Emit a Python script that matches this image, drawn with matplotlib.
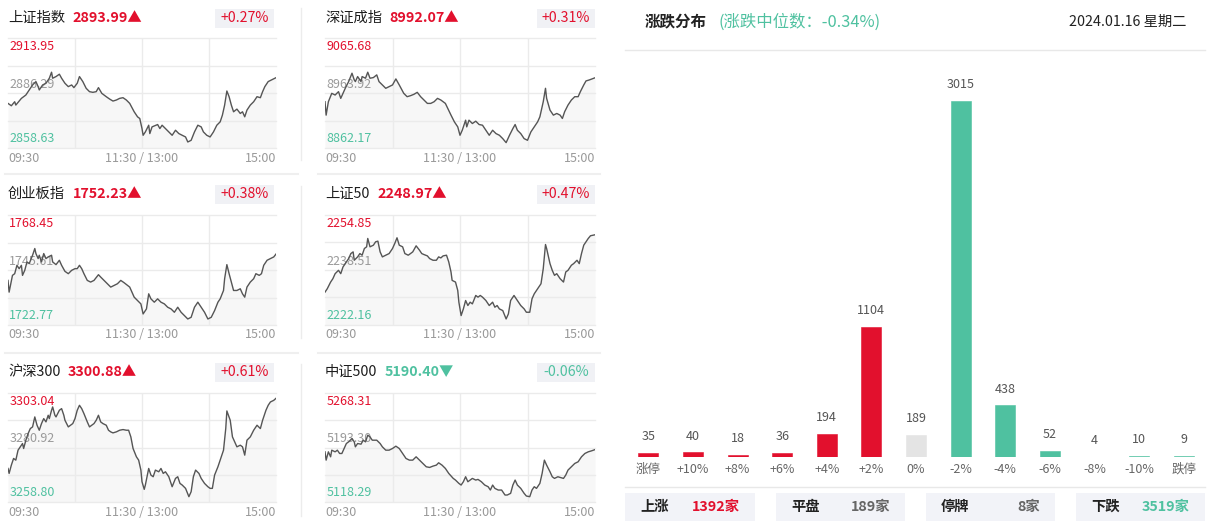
import matplotlib
matplotlib.use('Agg')
import matplotlib.pyplot as plt
from matplotlib.patches import Rectangle

plt.rcParams['font.family'] = ['Noto Sans CJK SC', 'DejaVu Sans']

# ---------------- data ----------------
idx_names = ['上证指数', '深证成指', '创业板指', '上证50', '沪深300', '中证500']
idx_last = [2893.99, 8992.07, 1752.23, 2248.97, 3300.88, 5190.40]
idx_pct = ['+0.27%', '+0.31%', '+0.38%', '+0.47%', '+0.61%', '-0.06%']
idx_high = [2913.95, 9065.68, 1768.45, 2254.85, 3303.04, 5268.31]
idx_prev = [2886.29, 8963.92, 1745.61, 2238.51, 3280.92, 5193.30]
idx_low = [2858.63, 8862.17, 1722.77, 2222.16, 3258.80, 5118.29]
time_labels = ['09:30', '11:30 / 13:00', '15:00']

# minutes since 09:30 (trading minutes, 0..240) and index level
sh_t = [0,3,6,7,12,16,19,22,25,27,28,31,34,37,39,40,43,46,48,51,54,57,59,62,64,67,70,73,76,79,
        81,84,88,91,94,97,100,103,106,109,113,116,118,120,121,123,126,127,129,134,136,138,141,144,147,150,153,156,159,161,
        164,167,170,173,175,178,181,184,187,190,192,194,196,198,200,202,205,208,210,212,214,217,220,223,226,228,230,233,236,240]
sh_v = [2881.06,2879.88,2881.90,2880.22,2883.59,2885.28,2887.81,2890.34,2892.03,2889.50,
        2887.81,2890.34,2891.18,2893.71,2896.75,2893.71,2894.56,2895.74,2893.71,2891.18,
        2889.50,2890.34,2888.99,2891.18,2894.56,2892.03,2888.65,2886.96,2886.63,2886.96,
        2888.99,2886.12,2884.43,2883.25,2882.24,2882.75,2883.59,2883.93,2882.75,2881.06,
        2876.84,2874.31,2873.47,2868.41,2865.03,2866.72,2870.09,2865.88,2869.25,2870.43,
        2868.41,2870.09,2868.41,2866.72,2865.03,2867.56,2865.88,2865.03,2864.19,2861.66,
        2862.50,2866.72,2870.09,2869.25,2866.72,2865.03,2864.19,2866.72,2870.09,2871.78,
        2875.16,2880.22,2887.30,2884.43,2880.22,2876.84,2878.19,2876.00,2876.84,2874.31,
        2877.69,2880.22,2881.90,2884.43,2883.93,2886.96,2889.50,2892.03,2892.87,2893.99]

sz_t = [0,1,3,6,9,12,14,16,18,21,24,26,27,29,30,32,33,36,38,40,43,46,48,51,54,57,60,63,66,70,
        73,76,79,82,85,88,91,94,97,100,103,107,112,115,118,120,122,125,126,128,131,134,137,140,143,146,149,152,155,158,
        161,164,167,169,171,174,177,180,183,186,189,191,194,196,197,200,203,206,209,211,213,216,219,222,225,227,230,232,235,240]
sz_v = [8947.79,8922.97,8947.79,8963.30,8960.20,8966.40,8953.99,8963.30,8972.61,8985.02,
        9000.53,8988.12,8985.02,8994.32,8991.22,8985.02,8994.32,8991.22,9002.39,8991.22,
        8992.46,8997.43,8985.02,8978.81,8972.61,8975.71,8978.81,8989.98,8978.81,8963.30,
        8957.09,8958.96,8961.44,8965.16,8957.09,8950.89,8944.68,8944.68,8947.79,8953.99,
        8950.89,8944.68,8922.97,8910.56,8901.25,8885.74,8895.04,8913.66,8901.25,8913.66,
        8907.45,8911.80,8905.59,8904.35,8895.04,8885.74,8895.04,8888.84,8885.74,8879.53,
        8872.09,8885.74,8898.15,8905.59,8895.04,8888.84,8879.53,8876.43,8891.94,8901.25,
        8910.56,8919.86,8947.79,8972.61,8953.99,8932.27,8922.97,8926.07,8922.97,8916.76,
        8929.17,8941.58,8950.89,8957.09,8957.09,8966.40,8978.81,8986.26,8988.12,8992.07]

cy_t = [0,1,4,6,8,10,12,13,15,17,19,22,24,25,27,28,30,32,34,36,39,40,43,46,48,51,54,57,60,62,
        64,66,68,71,74,77,81,83,86,89,92,95,98,101,104,109,113,116,119,121,124,126,128,131,134,137,140,143,146,149,
        152,155,158,161,164,167,170,173,176,179,182,185,188,190,193,194,196,198,200,202,
        205,208,210,212,214,217,220,222,225,227,229,232,235,238,240]
cy_v = [1741.29,1736.42,1743.38,1744.08,1747.56,1746.17,1747.56,1743.38,1745.47,1748.95,
        1748.26,1751.74,1754.53,1752.44,1750.35,1751.74,1748.95,1752.44,1750.35,1751.04,
        1751.74,1748.95,1747.84,1749.65,1747.56,1745.05,1744.08,1745.47,1746.17,1746.17,
        1747.56,1746.17,1744.08,1741.29,1740.60,1741.29,1743.66,1742.68,1741.29,1739.90,
        1738.51,1739.20,1739.90,1741.29,1740.32,1738.51,1734.33,1732.93,1731.54,1727.36,
        1729.45,1735.72,1733.63,1732.24,1733.63,1732.24,1731.54,1730.15,1729.45,1728.06,
        1730.15,1728.06,1726.67,1725.27,1725.97,1730.15,1732.24,1730.15,1728.06,1725.27,
        1725.97,1728.75,1732.24,1733.63,1737.11,1741.99,1747.84,1744.08,1740.60,1737.11,
        1737.11,1737.81,1735.72,1734.33,1738.51,1740.60,1741.99,1744.08,1743.38,1744.08,
        1747.56,1749.65,1750.35,1751.04,1752.23]

sz50_t = [0,2,5,7,9,12,14,16,18,21,23,25,26,29,31,33,35,37,38,40,43,45,47,49,51,54,57,60,62,64,
          66,69,71,74,76,78,81,84,86,88,91,93,96,99,101,103,105,108,110,112,113,116,118,119,121,123,125,127,129,131,
          134,136,138,140,143,146,149,151,153,155,158,161,163,165,168,171,174,177,179,182,
          184,186,189,192,194,196,197,200,202,204,206,209,212,214,216,219,221,224,226,228,230,232,234,236,240]
sz50_v = [2231.93,2232.93,2234.92,2235.92,2237.41,2238.41,2237.41,2239.41,2240.40,2241.90,
          2243.39,2243.89,2241.40,2242.40,2243.39,2242.90,2244.89,2245.39,2247.88,2245.39,
          2245.88,2246.88,2247.08,2243.89,2242.40,2242.90,2243.39,2244.89,2246.38,2248.08,
          2245.88,2245.39,2243.39,2242.90,2243.39,2243.89,2245.69,2244.39,2243.39,2243.09,
          2242.70,2241.90,2241.40,2241.40,2242.40,2242.10,2242.70,2242.90,2240.90,2237.91,
          2235.42,2234.92,2232.43,2228.94,2224.96,2226.95,2229.44,2227.95,2228.94,2228.44,
          2230.94,2230.44,2230.94,2230.44,2229.44,2227.95,2228.94,2227.45,2227.95,2226.95,
          2226.45,2223.96,2225.45,2229.44,2230.94,2229.44,2227.95,2226.95,2225.95,2225.95,
          2229.94,2231.43,2232.93,2234.42,2238.91,2246.08,2244.89,2240.40,2238.41,2236.92,
          2237.41,2235.92,2234.92,2237.91,2238.41,2239.91,2240.40,2241.40,2240.40,2243.39,
          2245.88,2246.88,2247.88,2248.68,2248.97]

hs300_t = [0,1,3,5,7,9,11,13,14,16,18,20,22,24,26,28,30,32,34,36,37,39,40,42,43,46,48,50,51,54,
           56,58,60,62,64,66,68,71,73,75,77,79,81,83,85,88,90,92,94,97,100,103,106,108,110,112,115,117,119,120,
           122,123,126,128,130,132,135,137,139,141,144,147,150,152,154,156,159,162,164,166,
           168,171,173,176,179,181,183,185,188,190,193,195,196,199,201,203,205,208,210,212,
           214,217,220,223,226,228,231,233,235,238,240]
hs300_v = [3272.42,3270.40,3273.77,3276.47,3275.79,3279.84,3281.19,3282.54,3280.52,3283.89,
           3286.58,3288.61,3289.28,3293.33,3289.96,3287.93,3290.63,3292.65,3291.31,3294.00,
           3292.65,3296.03,3297.38,3294.00,3293.33,3296.03,3296.70,3294.00,3291.98,3289.28,
           3289.96,3290.63,3292.65,3296.03,3298.05,3296.70,3294.68,3291.31,3289.28,3289.96,
           3290.63,3291.98,3294.00,3291.31,3290.63,3289.96,3287.93,3287.26,3286.85,3287.26,
           3287.93,3288.20,3287.93,3287.93,3285.24,3280.52,3277.14,3275.79,3271.75,3267.03,
           3263.93,3265.68,3272.42,3269.72,3269.05,3271.75,3271.07,3272.42,3270.40,3271.07,
           3269.05,3265.00,3268.38,3269.05,3266.35,3265.68,3264.33,3260.96,3262.98,3269.05,
           3271.75,3270.40,3268.38,3266.35,3265.00,3264.33,3264.33,3269.72,3273.10,3275.79,
           3279.84,3288.61,3295.76,3291.98,3285.24,3283.21,3281.19,3281.86,3281.19,3277.82,
           3283.89,3285.24,3287.93,3289.96,3288.61,3291.98,3296.03,3298.05,3299.40,3300.07,
           3300.88]

zz500_t = [0,1,3,5,6,9,11,13,15,17,19,21,24,26,27,29,32,34,36,38,40,42,44,46,49,51,54,57,60,63,
           66,69,72,75,78,81,84,87,90,93,96,99,101,104,107,110,114,116,119,121,123,125,127,129,131,134,136,139,142,145,
           147,149,151,154,157,160,162,165,167,169,171,174,177,179,182,184,186,188,191,193,
           195,197,200,202,204,207,209,212,214,216,219,222,225,228,231,234,237,240]
zz500_v = [5187.35,5175.92,5187.35,5180.49,5189.64,5187.35,5189.64,5185.07,5185.07,5191.93,
           5198.79,5201.08,5205.65,5201.08,5194.21,5198.79,5197.87,5203.36,5201.08,5210.22,
           5207.94,5203.36,5203.36,5203.36,5198.79,5194.21,5189.64,5189.64,5191.93,5195.13,
           5191.93,5185.07,5178.21,5175.92,5175.92,5180.49,5175.92,5171.34,5166.77,5165.86,
           5167.69,5169.06,5172.26,5169.06,5164.48,5157.62,5150.76,5148.47,5143.90,5141.61,
           5146.19,5153.05,5146.19,5148.47,5150.76,5148.47,5149.39,5146.19,5141.61,5139.33,
           5134.75,5141.61,5137.04,5134.75,5134.75,5127.89,5127.89,5130.18,5141.61,5148.47,
           5141.61,5137.04,5130.18,5126.52,5125.60,5134.75,5139.33,5137.04,5143.90,5157.62,
           5175.92,5169.06,5159.91,5153.05,5150.76,5153.05,5152.13,5150.76,5155.34,5162.20,
           5166.77,5171.34,5173.63,5180.49,5185.07,5187.35,5188.73,5190.40]

series_t = [sh_t, sz_t, cy_t, sz50_t, hs300_t, zz500_t]
series_v = [sh_v, sz_v, cy_v, sz50_v, hs300_v, zz500_v]

bar_cats = ['涨停', '+10%', '+8%', '+6%', '+4%', '+2%', '0%', '-2%', '-4%', '-6%', '-8%', '-10%', '跌停']
bar_vals = [35, 40, 18, 36, 194, 1104, 189, 3015, 438, 52, 4, 10, 9]
median_pct = '-0.34%'
date_text = '2024.01.16 星期二'
sum_labels = ['上涨', '平盘', '停牌', '下跌']
sum_counts = [1392, 189, 8, 3519]

# ---------------- style ----------------
RED = '#e2102d'
GREEN = '#4fc1a0'
GRAYBAR = '#e4e4e4'
GRID = '#ebebeb'

W, H = 1208, 522
fig = plt.figure(figsize=(W / 100, H / 100), dpi=100)
fig.patch.set_facecolor('white')
bg = fig.add_axes([0, 0, 1, 1])
bg.set_xlim(0, W)
bg.set_ylim(H, 0)
bg.axis('off')


def px_axes(x0, y0, x1, y1):
    a = fig.add_axes([x0 / W, 1 - y1 / H, (x1 - x0) / W, (y1 - y0) / H])
    a.set_facecolor('none')
    return a


# ---------------- left: index mini charts ----------------
cols_x = [(8, 276), (325, 595)]
tag_x = [(215, 274), (537, 595)]
rows_y = [(38, 148), (215, 325), (393, 502)]
title_y = [18, 194, 372]

for i, name in enumerate(idx_names):
    r, c = divmod(i, 2)
    x0, x1 = cols_x[c]
    y0, y1 = rows_y[r]
    ty = title_y[r]
    up = idx_pct[i].startswith('+')
    col = RED if up else GREEN
    tt = bg.text(x0, ty, name, fontsize=10.3, color='#1e1e1e', ha='left', va='center',
                 fontweight='medium')
    bg.annotate('%.2f%s' % (idx_last[i], '▲' if up else '▼'), xy=(1, 0.5), xycoords=tt,
                xytext=(5.5, 0), textcoords='offset points', ha='left', va='center',
                fontsize=10.3, fontweight='bold', color=col)
    tx0, tx1 = tag_x[c]
    bg.add_patch(Rectangle((tx0, ty - 9.5), tx1 - tx0, 19, facecolor='#f0f1f5', edgecolor='none'))
    bg.text((tx0 + tx1) / 2, ty, idx_pct[i], fontsize=10.2, color=col, ha='center', va='center')

    ax = px_axes(x0, y0, x1, y1)
    lo, hi, mid = idx_low[i], idx_high[i], idx_prev[i]
    ax.set_xlim(0, 240)
    ax.set_ylim(lo, hi)
    ax.axis('off')
    for f in [0, 0.25, 0.5, 0.75, 1.0]:
        ax.axhline(lo + f * (hi - lo), color=GRID, lw=1, zorder=1, clip_on=False)
    for tv in [60, 120, 180]:
        ax.axvline(tv, color=GRID, lw=1, zorder=1)
    ax.annotate('%.2f' % hi, xy=(0, hi), xycoords=('axes fraction', 'data'), xytext=(1, -1.5),
                textcoords='offset points', ha='left', va='top', fontsize=9, color=RED, zorder=2)
    ax.annotate('%.2f' % mid, xy=(0, mid), xycoords=('axes fraction', 'data'), xytext=(1, 1.5),
                textcoords='offset points', ha='left', va='bottom', fontsize=9, color='#9a9a9a', zorder=2)
    ax.annotate('%.2f' % lo, xy=(0, lo), xycoords=('axes fraction', 'data'), xytext=(1, 2),
                textcoords='offset points', ha='left', va='bottom', fontsize=9, color=GREEN, zorder=2)
    n = min(len(series_t[i]), len(series_v[i]))
    ts, vs = series_t[i][:n], series_v[i][:n]
    ax.fill_between(ts, vs, lo, color='#f7f7f7', lw=0, zorder=0.5)
    ax.plot(ts, vs, color='#555555', lw=1.0, zorder=3, solid_joinstyle='round')

    bg.text(x0, y1 + 10, time_labels[0], fontsize=9, color='#999999', ha='left', va='center')
    bg.text((x0 + x1) / 2, y1 + 10, time_labels[1], fontsize=9, color='#999999', ha='center', va='center')
    bg.text(x1, y1 + 10, time_labels[2], fontsize=9, color='#999999', ha='right', va='center')

# separators
for yy in [173.5, 352.5]:
    bg.plot([5, 298], [yy, yy], color='#efefef', lw=1.5)
    bg.plot([318, 600], [yy, yy], color='#efefef', lw=1.5)
for ya, yb in [(8, 160), (186, 338), (364, 516)]:
    bg.plot([300.5, 300.5], [ya, yb], color='#ececec', lw=1)

# ---------------- right: distribution ----------------
tt = bg.text(645, 22, '涨跌分布', fontsize=11.2, fontweight='bold', color='#222222', ha='left', va='center')
bg.annotate('(涨跌中位数：%s)' % median_pct, xy=(1, 0.5), xycoords=tt, xytext=(8.5, 0),
            textcoords='offset points', ha='left', va='center', fontsize=11.8, color=GREEN)
bg.text(1186, 22, date_text, fontsize=10.3, color='#222222', ha='right', va='center')
bg.plot([625, 1205], [49.5, 49.5], color='#e8e8e8', lw=1)
bg.plot([625, 1205], [486.5, 486.5], color='#e8e8e8', lw=1)

bax = px_axes(626, 60, 1206, 457)
bax.axis('off')
bax.set_xlim(-0.5, len(bar_cats) - 0.5)
bax.set_ylim(0, max(bar_vals) * 1.115)
colors = []
for cat in bar_cats:
    if cat.startswith('+') or cat == '涨停':
        colors.append(RED)
    elif cat == '0%':
        colors.append(GRAYBAR)
    else:
        colors.append(GREEN)
xs = list(range(len(bar_cats)))
bax.bar(xs, bar_vals, width=0.45, color=colors, edgecolor=colors, linewidth=0.4)
for x, v, cat in zip(xs, bar_vals, bar_cats):
    bax.annotate(str(v), xy=(x, v), xytext=(0, 7), textcoords='offset points',
                 ha='center', va='bottom', fontsize=9, color='#555555', annotation_clip=False)
    bax.annotate(cat, xy=(x, 0), xytext=(0, -4), textcoords='offset points',
                 ha='center', va='top', fontsize=9, color='#666666', annotation_clip=False)

box_x = [(625, 755), (776, 905), (926, 1055), (1076, 1205)]
count_colors = [RED, '#666666', '#666666', GREEN]
for (bx0, bx1), lab, cnt, cc in zip(box_x, sum_labels, sum_counts, count_colors):
    bg.add_patch(Rectangle((bx0, 493), bx1 - bx0, 28, facecolor='#f2f3f8', edgecolor='none'))
    bg.text(bx0 + 15, 507, lab, fontsize=10.3, fontweight='bold', color='#222222', ha='left', va='center')
    bg.text(bx1 - 15, 507, '%d家' % cnt, fontsize=10.3, fontweight='bold', color=cc, ha='right', va='center')

fig.savefig('out.png', dpi=100, facecolor='white')
